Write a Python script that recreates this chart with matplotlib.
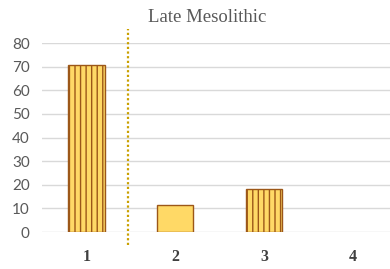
import matplotlib
matplotlib.use('Agg')
import matplotlib.pyplot as plt

# data
categories = ['1', '2', '3', '4']
values = [70.5, 11.5, 18, 0]
hatched = [True, False, True, False]
divider_pos = 0.47

plt.rcParams['font.family'] = ['Liberation Serif', 'DejaVu Serif']
plt.rcParams['hatch.linewidth'] = 1.0

fig = plt.figure(figsize=(3.9, 2.69), dpi=100)
ax = fig.add_axes([0.108, 0.1375, 0.91, 0.7025])

x = list(range(len(categories)))
for i, (v, h) in enumerate(zip(values, hatched)):
    if v <= 0:
        continue
    ax.bar(x[i], v, width=0.41, color='#FFD966', edgecolor='#9C5718',
           linewidth=1.0, hatch='|||' if h else None, zorder=3)

ax.set_xlim(-0.5, 3.5)
ax.set_ylim(0, 80)
ax.set_yticks(range(0, 81, 10))
ax.set_xticks(x)
ax.set_xticklabels(categories, fontsize=11.5, fontweight='bold', color='#404040')
ax.tick_params(axis='y', labelsize=11, colors='#595959', length=0, pad=9)
for lab in ax.get_yticklabels():
    lab.set_fontfamily(['Lato', 'DejaVu Sans'])
ax.tick_params(axis='x', length=0, pad=12)
ax.grid(axis='y', color='#D9D9D9', linewidth=1, zorder=0)
for s in ax.spines.values():
    s.set_visible(False)

# dotted divider
ax.plot([divider_pos, divider_pos], [-5.5, 86], color='#C9A000', linestyle=(0, (1, 1.1)),
        linewidth=1.6, clip_on=False, zorder=4)

fig.text(0.53, 0.935, 'Late Mesolithic', ha='center', va='center', fontsize=13.5, color='#595959')

fig.savefig('out.png', dpi=100)
